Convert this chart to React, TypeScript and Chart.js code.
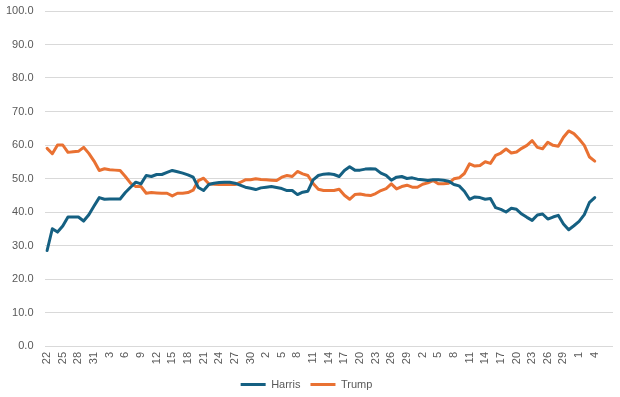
import React, { useEffect, useRef } from "react";
import { Chart, registerables } from "chart.js";

Chart.register(...registerables);

const dayLabels: string[] = [
  "22","23","24","25","26","27","28","29","30","31",
  "1","2","3","4","5","6","7","8","9","10","11","12","13","14","15","16","17","18","19","20","21","22","23","24","25","26","27","28","29","30","31",
  "1","2","3","4","5","6","7","8","9","10","11","12","13","14","15","16","17","18","19","20","21","22","23","24","25","26","27","28","29","30",
  "1","2","3","4","5","6","7","8","9","10","11","12","13","14","15","16","17","18","19","20","21","22","23","24","25","26","27","28","29","30","31",
  "1","2","3","4","5","6","7",
];

const harris: number[] = [
  28.5, 35.0, 34.0, 35.8, 38.5, 38.5, 38.5, 37.3, 39.2, 41.8,
  44.3, 43.8, 43.9, 43.9, 43.9, 45.8, 47.4, 48.9, 48.4, 50.9,
  50.6, 51.2, 51.2, 51.8, 52.4, 52.0, 51.6, 51.1, 50.4, 47.3,
  46.4, 48.2, 48.6, 48.8, 48.9, 48.9, 48.6, 48.0, 47.4, 47.1,
  46.7, 47.2, 47.4, 47.6, 47.3, 47.0, 46.4, 46.4, 45.2, 45.9,
  46.2, 49.6, 50.9, 51.3, 51.4, 51.2, 50.6, 52.4, 53.5, 52.5,
  52.5, 52.8, 52.9, 52.8, 51.6, 50.9, 49.5, 50.4, 50.6, 50.0,
  50.2, 49.8, 49.6, 49.4, 49.6, 49.6, 49.5, 49.2, 48.2, 47.8,
  46.2, 43.8, 44.5, 44.3, 43.8, 44.0, 41.3, 40.8, 40.0, 41.1,
  40.8, 39.4, 38.4, 37.5, 39.1, 39.4, 37.9, 38.5, 39.0, 36.4,
  34.7, 35.9, 37.2, 39.2, 42.9, 44.3,
];

const trump: number[] = [
  59.0, 57.4, 60.0, 60.0, 57.8, 58.0, 58.1, 59.3, 57.5, 55.2,
  52.4, 52.9, 52.6, 52.5, 52.4, 50.6, 48.6, 47.6, 47.6, 45.6,
  45.8, 45.7, 45.6, 45.6, 44.8, 45.6, 45.6, 45.8, 46.5, 49.4,
  50.1, 48.4, 48.3, 48.2, 48.2, 48.2, 48.2, 48.8, 49.6, 49.6,
  49.9, 49.7, 49.6, 49.5, 49.4, 50.4, 50.9, 50.6, 52.1, 51.4,
  50.9, 48.5, 46.8, 46.4, 46.4, 46.4, 46.8, 45.0, 43.8, 45.2,
  45.4, 45.1, 44.9, 45.5, 46.4, 47.0, 48.4, 46.9, 47.6, 48.0,
  47.4, 47.4, 48.3, 48.7, 49.4, 48.4, 48.4, 48.6, 49.9, 50.2,
  51.5, 54.4, 53.7, 53.9, 55.0, 54.5, 56.9, 57.6, 58.8, 57.6,
  57.9, 59.0, 59.9, 61.3, 59.3, 58.9, 60.8, 59.9, 59.6, 62.3,
  64.2, 63.4, 61.8, 59.9, 56.4, 55.2,
];

const seriesNames = ["Harris", "Trump"];
const seriesColors = ["#156082", "#E97132"];
const lastLabelledIndex = 105;

const FONT = "'Liberation Sans', Arial, sans-serif";

const zeroPad = (s: any) => {
  s.paddingTop = 0;
  s.paddingBottom = 0;
  s.paddingLeft = 0;
  s.paddingRight = 0;
};

const legendShift = {
  id: "legendShift",
  afterLayout(chart: any) {
    if (chart.legend) {
      chart.legend.top += 3;
      chart.legend.bottom += 3;
    }
  },
};

export default function App() {
  const ref = useRef<HTMLCanvasElement | null>(null);

  useEffect(() => {
    const canvas = ref.current;
    if (!canvas) return;
    const chart = new Chart(canvas, {
      type: "line",
      data: {
        labels: dayLabels,
        datasets: [harris, trump].map((d, i) => ({
          label: seriesNames[i],
          data: d,
          borderColor: seriesColors[i],
          backgroundColor: seriesColors[i],
          borderWidth: 3,
          pointRadius: 0,
          tension: 0,
          borderJoinStyle: "round" as const,
          borderCapStyle: "round" as const,
          fill: false,
        })),
      },
      plugins: [legendShift],
      options: {
        responsive: false,
        animation: false,
        devicePixelRatio: 1,
        layout: { padding: { top: 11, left: 0, right: 7, bottom: 0 } },
        plugins: {
          tooltip: { enabled: false },
          legend: {
            position: "bottom",
            labels: {
              boxWidth: 25,
              boxHeight: 3,
              padding: 10,
              color: "#595959",
              font: { family: FONT, size: 11 },
              generateLabels: (c: any) =>
                Chart.defaults.plugins.legend.labels
                  .generateLabels(c)
                  .map((it: any) => ({ ...it, lineWidth: 0, fillStyle: it.strokeStyle })),
            },
          },
        },
        scales: {
          x: {
            offset: true,
            grid: { display: false, drawTicks: false },
            border: { display: false },
            afterFit: (s: any) => {
              s.height = 20;
              zeroPad(s);
            },
            ticks: {
              autoSkip: false,
              maxRotation: 90,
              minRotation: 90,
              padding: 6,
              color: "#595959",
              font: { family: FONT, size: 11 },
              callback: function (this: any, value: any, index: number) {
                if (index % 3 === 0 && index <= lastLabelledIndex) return dayLabels[index];
                return "";
              },
            },
          },
          y: {
            min: 0,
            max: 100,
            afterFit: (s: any) => {
              s.width = 44.5;
              zeroPad(s);
            },
            grid: { color: "#d9d9d9", lineWidth: 1, drawTicks: false },
            border: { display: false },
            ticks: {
              stepSize: 10,
              padding: 11,
              color: "#595959",
              font: { family: FONT, size: 11 },
              callback: (v: any) => Number(v).toFixed(1),
            },
          },
        },
      },
    });
    return () => chart.destroy();
  }, []);

  return (
    <div style={{ position: "fixed", left: 0, top: 0, width: 620, height: 397, background: "#ffffff" }}>
      <canvas ref={ref} width={620} height={397} style={{ display: "block" }} />
    </div>
  );
}
